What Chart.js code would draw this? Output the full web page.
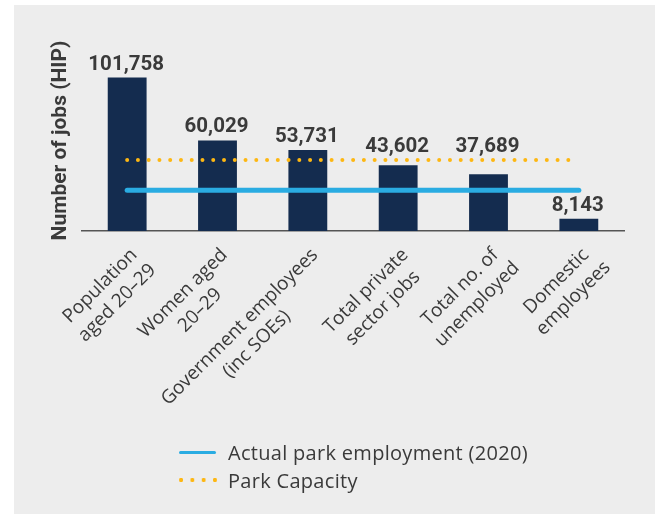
<!DOCTYPE html>
<html>
<head>
<meta charset="utf-8">
<script src="https://cdn.jsdelivr.net/npm/chart.js@4"></script>
<style>
  html, body { margin: 0; padding: 0; background: #fff; }
  #wrap { position: relative; width: 655px; height: 514px; }
  #panel { position: absolute; left: 14px; top: 5px; right: 0; bottom: 0; background: #ededed; }
  #chart { position: absolute; left: 0; top: 0; }
  #legend { position: absolute; left: 179px; top: 438px; font-family: "Open Sans", sans-serif; font-size: 20px; letter-spacing: 0.3px; color: #3a3a3a; }
  .row { display: flex; align-items: center; height: 28px; }
  .swatch { width: 39px; height: 4px; margin-right: 10px; }
  .solid { background: #2aace2; border-radius: 2px; height: 3px; width: 37px; margin-right: 12px; }
  .dots { background-image: radial-gradient(circle, #fdb713 1.9px, transparent 2.3px); background-size: 11.3px 4px; background-position: -3.6px 0; }
</style>
</head>
<body>
<div id="wrap">
  <div id="panel"></div>
  <canvas id="chart" width="655" height="514"></canvas>
  <div id="legend">
    <div class="row"><span class="swatch solid"></span>Actual park employment (2020)</div>
    <div class="row"><span class="swatch dots"></span>Park Capacity</div>
  </div>
</div>
<script>
const categories = [
  ['Population', 'aged 20–29'],
  ['Women aged', '20–29'],
  ['Government employees', '(inc SOEs)'],
  ['Total private', 'sector jobs'],
  ['Total no. of', 'unemployed'],
  ['Domestic', 'employees']
];
const jobs = [101758, 60029, 53731, 43602, 37689, 8143];
const actualEmployment = 27000;
const parkCapacity = 47000;

const navy = '#142c4f';
const blue = '#2aace2';
const orange = '#fdb713';
const textColor = '#3a3a3a';

// value labels above each bar; bars just under the capacity line get
// their label lifted above it
const barValues = {
  id: 'barValues',
  afterDatasetsDraw(chart) {
    const ctx = chart.ctx;
    const meta = chart.getDatasetMeta(2);
    const capY = chart.scales.y.getPixelForValue(parkCapacity);
    ctx.save();
    ctx.font = 'bold 20.5px Roboto, sans-serif';
    ctx.fillStyle = textColor;
    ctx.textAlign = 'center';
    ctx.textBaseline = 'alphabetic';
    meta.data.forEach((bar, i) => {
      const top = (bar.y > capY && bar.y - capY < 25) ? capY : bar.y;
      ctx.fillText(jobs[i].toLocaleString('en-US'), bar.x - 1, top - 8);
    });
    ctx.restore();
  }
};

// rotated category labels, lines centred on each other, ending at the tick
const slantedLabels = {
  id: 'slantedLabels',
  afterDraw(chart) {
    const ctx = chart.ctx;
    const scale = chart.scales.x;
    const lineHeight = 24;
    ctx.save();
    ctx.font = '19px "Open Sans", sans-serif';
    ctx.fillStyle = textColor;
    ctx.textBaseline = 'middle';
    ctx.textAlign = 'center';
    categories.forEach((lines, i) => {
      const x = scale.getPixelForTick(i) + 7;
      const y = scale.top + 21;
      const w = ctx.measureText(lines[0]).width;
      ctx.save();
      ctx.translate(x, y);
      ctx.rotate(-Math.PI / 4);
      lines.forEach((line, j) => {
        ctx.fillText(line, -w / 2, j * lineHeight);
      });
      ctx.restore();
    });
    ctx.restore();
  }
};

new Chart(document.getElementById('chart'), {
  data: {
    labels: categories,
    datasets: [
      {
        type: 'line',
        label: 'Park Capacity',
        data: categories.map(() => parkCapacity),
        borderColor: orange,
        borderWidth: 4,
        borderDash: [0, 10.76],
        borderCapStyle: 'round',
        pointRadius: 0,
        order: 1
      },
      {
        type: 'line',
        label: 'Actual park employment (2020)',
        data: categories.map(() => actualEmployment),
        borderColor: blue,
        borderWidth: 5,
        borderCapStyle: 'round',
        pointRadius: 0,
        order: 2
      },
      {
        type: 'bar',
        label: 'Number of jobs',
        data: jobs,
        backgroundColor: navy,
        categoryPercentage: 1,
        barPercentage: 0.43,
        order: 3
      }
    ]
  },
  options: {
    responsive: false,
    animation: false,
    layout: { padding: { top: 50, right: 31, bottom: 0, left: 0 } },
    plugins: {
      legend: { display: false },
      tooltip: { enabled: false }
    },
    scales: {
      x: {
        grid: { display: false },
        border: { display: true, color: '#555', width: 1.5 },
        ticks: { display: false },
        afterFit(scale) {
          scale.height = 283;
          scale.paddingLeft = 0;
          scale.paddingRight = 0;
        }
      },
      y: {
        min: 0,
        max: 120000,
        grid: { display: false },
        border: { display: false },
        ticks: { display: false },
        title: {
          display: true,
          text: 'Number of jobs (HIP)',
          color: textColor,
          font: { family: 'Roboto', size: 21, weight: 'bold' },
          padding: { top: 48, bottom: 0 }
        },
        afterFit(scale) {
          scale.width = 82;
        }
      }
    }
  },
  plugins: [barValues, slantedLabels]
});
</script>
</body>
</html>
